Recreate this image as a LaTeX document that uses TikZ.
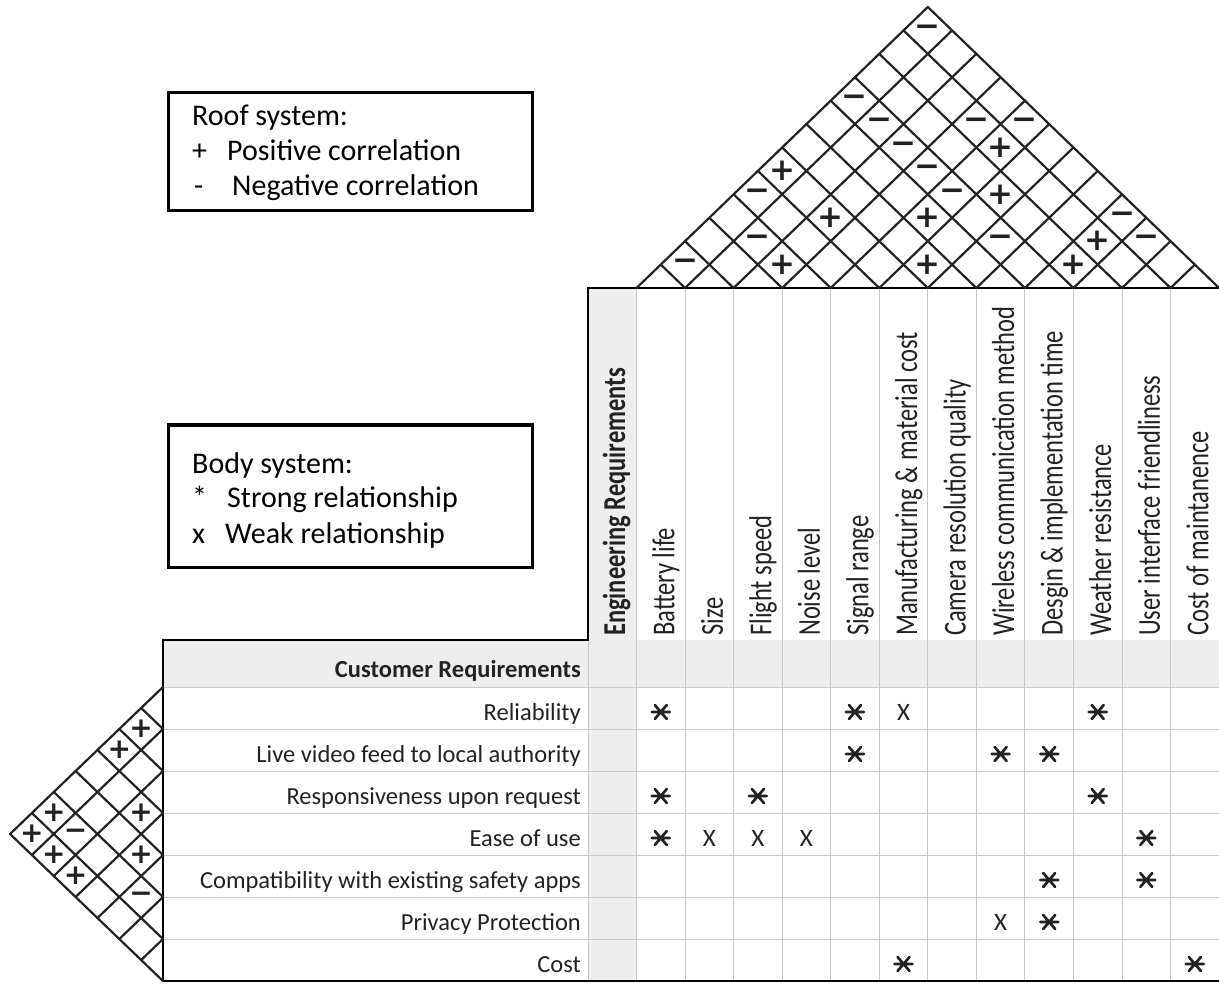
\documentclass[tikz,border=0pt]{standalone}
\usepackage{fontspec}
\setmainfont{Carlito}
\newfontfamily\symfont{DejaVu Sans}
\usetikzlibrary{calc}
\definecolor{ink}{HTML}{222222}
\definecolor{gridc}{HTML}{C8C8C8}
\definecolor{hdrgrey}{HTML}{EEEEEE}
\tikzset{
  frameline/.style={line width=2.6pt, black},
  gridline/.style={line width=1pt, gridc},
  roofline/.style={line width=2.2pt, ink, line cap=round, line join=round},
  corrsym/.style={inner sep=0pt, font=\symfont\bfseries\fontsize{31}{31}\selectfont, text=ink},
  rowlabel/.style={anchor=base east, inner sep=0pt, font=\fontsize{24.5}{26}\selectfont, text=ink},
  collabel/.style={anchor=base west, rotate=90, inner sep=0pt, font=\fontsize{24.5}{26}\selectfont, text=ink},
  legendbox/.style={draw=black, line width=3pt, minimum width=364pt, inner sep=0pt, fill=white},
  legendtext/.style={anchor=base west, inner sep=0pt, font=\fontsize{30}{32}\selectfont, text=black},
  strongmark/.style={minimum width=22pt, minimum height=20pt, inner sep=0pt,
    path picture={
      \draw[line width=2.7pt, ink, line cap=round]
        ($(path picture bounding box.center)+(-9,0)$) -- ++(18,0)
        ($(path picture bounding box.center)+(-6,-7)$) -- ++(12,14)
        ($(path picture bounding box.center)+(-6,7)$) -- ++(12,-14);}},
  weakmark/.style={inner sep=0pt, font=\fontsize{25}{25}\selectfont, text=ink},
}
\begin{document}
\begin{tikzpicture}[x=1pt,y=-1pt]
\useasboundingbox (0,0) rectangle (1219,984);
\fill[white] (0,0) rectangle (1219,984);
\def\XO{636.5}\def\CW{48.55}\def\YB{288}\def\HR{46.83}
\def\LX{163}\def\LY{687}\def\RH{42}\def\DW{43.7}

% light grey header row and header column
\fill[hdrgrey] (163,640) rectangle (1219,687);
\fill[hdrgrey] (588,288) rectangle (\XO,981);

% grid lines
\foreach \k in {0,...,12}{
  \pgfmathsetmacro\gx{\XO+\k*\CW}
  \draw[gridline] (\gx,288) -- (\gx,981);
}
\draw[gridline] (588,640) -- (588,981);
\foreach \r in {0,...,6}{
  \pgfmathsetmacro\gy{\LY+\r*\RH}
  \draw[gridline] (163,\gy) -- (1219,\gy);
}

% frame
\draw[frameline] (163,981) -- (163,640) -- (588,640) -- (588,288) -- (1219,288);
\draw[frameline] (163,981) -- (1219,981);

% roof grid
\foreach \k in {0,...,12}{
  \pgfmathsetmacro\xa{\XO+\k*\CW}
  \pgfmathsetmacro\xr{\XO+(\k+12)/2*\CW}
  \pgfmathsetmacro\yr{\YB-(12-\k)/2*\HR}
  \pgfmathsetmacro\xl{\XO+\k/2*\CW}
  \pgfmathsetmacro\yl{\YB-\k/2*\HR}
  \draw[roofline] (\xl,\yl) -- (\xa,\YB) -- (\xr,\yr);
}
% roof symbols
\foreach \a/\j in {4/7,5/6,5/9,4/10,0/5,2/5,2/3,8/9,8/10}{
  \pgfmathsetmacro\sx{\XO+(\a+\j+1)/2*\CW}
  \pgfmathsetmacro\sy{\YB-(\j-\a)/2*\HR}
  \node[corrsym] (r-\a-\j) at (\sx,\sy) {+};
}
\foreach \a/\j in {0/11,0/8,1/8,2/8,3/8,4/8,3/10,4/11,0/4,1/3,0/1,6/8,8/11,9/11}{
  \pgfmathsetmacro\sx{\XO+(\a+\j+1)/2*\CW}
  \pgfmathsetmacro\sy{\YB-(\j-\a)/2*\HR}
  \node[corrsym] (r-\a-\j) at (\sx,\sy) {−};
}

% left wall grid
\foreach \k in {0,...,7}{
  \pgfmathsetmacro\yk{\LY+\k*\RH}
  \pgfmathsetmacro\xu{\LX-\k/2*\DW}
  \pgfmathsetmacro\yu{\LY+\k/2*\RH}
  \pgfmathsetmacro\xd{\LX-(7-\k)/2*\DW}
  \pgfmathsetmacro\yd{\LY+(\k+7)/2*\RH}
  \draw[roofline] (\xu,\yu) -- (\LX,\yk) -- (\xd,\yd);
}
% left wall symbols
\foreach \a/\j in {0/1,0/2,2/3,3/4,0/5,0/6,1/6,2/6}{
  \pgfmathsetmacro\sx{\LX-(\j-\a)/2*\DW}
  \pgfmathsetmacro\sy{\LY+(\a+\j+1)/2*\RH}
  \node[corrsym, font=\symfont\bfseries\fontsize{28}{28}\selectfont] (w-\a-\j) at (\sx,\sy) {+};
}
\foreach \a/\j in {4/5,1/5}{
  \pgfmathsetmacro\sx{\LX-(\j-\a)/2*\DW}
  \pgfmathsetmacro\sy{\LY+(\a+\j+1)/2*\RH}
  \node[corrsym, font=\symfont\bfseries\fontsize{28}{28}\selectfont] (w-\a-\j) at (\sx,\sy) {−};
}

% column labels
\node[collabel, font=\bfseries\fontsize{24.5}{26}\selectfont] (e0) at (625,636) {\scalebox{1}[1.3]{Engineering Requirements}};
\foreach \c/\t in {1/Battery life,2/Size,3/Flight speed,4/Noise level,5/Signal range,
  6/Manufacturing \& material cost,7/Camera resolution quality,8/Wireless communication method,
  9/Desgin \& implementation time,10/Weather resistance,11/User interface friendliness,12/Cost of maintanence}{
  \pgfmathsetmacro\cx{\XO+(\c-0.5)*\CW+13.5}
  \node[collabel] (e\c) at (\cx,636) {\scalebox{1}[1.3]{\t}};
}

% row labels
\node[rowlabel, font=\bfseries\fontsize{24.5}{26}\selectfont] (c0) at (581,677) {Customer Requirements};
\foreach \r/\t in {1/Reliability,2/Live video feed to local authority,3/Responsiveness upon request,
  4/Ease of use,5/Compatibility with existing safety apps,6/Privacy Protection,7/Cost}{
  \pgfmathsetmacro\ry{\LY+(\r-0.5)*\RH+12}
  \node[rowlabel] (c\r) at (581,\ry) {\t};
}

% relationship matrix
\foreach \r/\c in {1/1,1/5,1/10,2/5,2/8,2/9,3/1,3/3,3/10,4/1,4/11,5/9,5/11,6/9,7/6,7/12}{
  \pgfmathsetmacro\mx{\XO+(\c-0.5)*\CW}
  \pgfmathsetmacro\my{\LY+(\r-0.5)*\RH+4}
  \node[strongmark] (m-\r-\c) at (\mx,\my) {};
}
\foreach \r/\c in {1/6,4/2,4/3,4/4,6/8}{
  \pgfmathsetmacro\mx{\XO+(\c-0.5)*\CW}
  \pgfmathsetmacro\my{\LY+(\r-0.5)*\RH+4}
  \node[weakmark] (m-\r-\c) at (\mx,\my) {X};
}

% legends
\node[legendbox, minimum height=118pt] (roofbox) at (350,152) {};
\node[legendtext] (rt0) at (192,126) {Roof system:};
\node[legendtext] (rt1s) at (192,161) {+};
\node[legendtext] (rt1) at (227,161) {Positive correlation};
\node[legendtext] (rt2s) at (194,196) {-};
\node[legendtext] (rt2) at (232,196) {Negative correlation};

\node[legendbox, minimum height=142pt] (bodybox) at (350,496) {};
\node[legendtext] (bt0) at (192,473) {Body system:};
\node[legendtext] (bt1s) at (192,507) {*};
\node[legendtext] (bt1) at (227,507) {Strong relationship};
\node[legendtext] (bt2s) at (192,543) {x};
\node[legendtext] (bt2) at (225,543) {Weak relationship};
\end{tikzpicture}
\end{document}
